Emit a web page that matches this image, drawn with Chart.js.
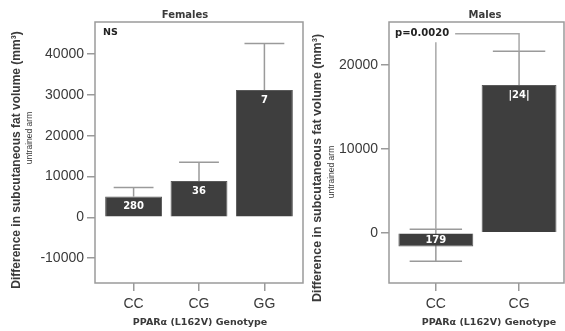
<!DOCTYPE html>
<html>
<head>
<meta charset="utf-8">
<script src="https://cdn.jsdelivr.net/npm/chart.js@4/dist/chart.umd.min.js"></script>
<style>
  html, body { margin: 0; padding: 0; background: #fff; }
  #wrap { position: relative; width: 565px; height: 331px; overflow: hidden; }
  canvas { position: absolute; top: 0; }
</style>
</head>
<body>
<div id="wrap">
  <canvas id="fem" width="305" height="331" style="left:0px"></canvas>
  <canvas id="mal" width="260" height="331" style="left:305px"></canvas>
</div>
<script>
// ---- Data ----
const femaleCats = ['CC', 'CG', 'GG'];
const femaleMeans = [5100, 8900, 31200];
const femaleErrHigh = [7300, 13500, 42600];
const femaleErrLow = [5100, 8900, 31200];
const femaleN = ['280', '36', '7'];
const femaleYTicks = [-10000, 0, 10000, 20000, 30000, 40000];

const maleCats = ['CC', 'CG'];
const maleMeans = [-1650, 17600];
const maleErrHigh = [400, 21600];
const maleErrLow = [-3400, 17600];
const maleN = ['179', '|24|'];
const maleYTicks = [0, 10000, 20000];

const femaleYRange = [-16100, 47900];
const maleYRange = [-6000, 25100];
const malePBracketLevel = 23700;
const malePText = 'p=0.0020';
const femaleStatText = 'NS';

const yTitleMain = 'Difference in subcutaneous fat volume (mm\u00B3)';
const yTitleSub = 'untrained arm';
const xTitle = 'PPAR\u03B1 (L162V) Genotype';

// ---- Styles ----
const BAR = '#3e3e3e';
const LINE = '#9a9a9a';
const TXT = '#3a3a3a';
const TICKFONT = { family: 'Liberation Sans, Arial, sans-serif', size: 14 };
const BOLDV = 'DejaVu Sans, Verdana, sans-serif';

function makeChart(canvasId, cfg) {
  const { cats, means, errHigh, errLow, labels, yTicks, yRange, xRange, yWidth, padRight,
          barPct, title, titleX, yTitleX, yTitleY, ySubX, ySubY, yTitleSize, xTitleX, extra } = cfg;

  const panelPlugin = {
    id: 'panel_' + canvasId,
    beforeDatasetsDraw(chart) {
      const ctx = chart.ctx, a = chart.chartArea;
      const xs = chart.scales.x, ys = chart.scales.y;
      const meta = chart.getDatasetMeta(0);
      ctx.save();
      ctx.strokeStyle = LINE;
      ctx.lineWidth = 1.5;
      ctx.strokeRect(a.left, a.top, a.right - a.left, a.bottom - a.top);
      means.forEach((m, i) => {
        const x = xs.getPixelForValue(i);
        const half = meta.data[i].width * 0.35;
        const yh = ys.getPixelForValue(errHigh[i]);
        const yl = ys.getPixelForValue(errLow[i]);
        ctx.beginPath();
        ctx.moveTo(x, yh); ctx.lineTo(x, yl);
        ctx.moveTo(x - half, yh); ctx.lineTo(x + half, yh);
        if (errLow[i] !== m) { ctx.moveTo(x - half, yl); ctx.lineTo(x + half, yl); }
        ctx.stroke();
      });
      ctx.restore();
    },
    afterDatasetsDraw(chart) {
      const ctx = chart.ctx;
      const meta = chart.getDatasetMeta(0);
      ctx.save();
      ctx.fillStyle = '#ffffff';
      ctx.font = 'bold 10px ' + BOLDV;
      ctx.textAlign = 'center';
      ctx.textBaseline = 'middle';
      meta.data.forEach((el, i) => {
        const y = means[i] >= 0 ? el.y + 10 : (el.y + el.base) / 2;
        ctx.fillText(labels[i], el.x, y);
      });
      ctx.restore();
      if (extra) extra(chart);
    },
    afterDraw(chart) {
      const ctx = chart.ctx;
      ctx.save();
      ctx.fillStyle = TXT;
      ctx.textAlign = 'center';
      ctx.textBaseline = 'middle';
      ctx.font = 'bold 10px ' + BOLDV;
      ctx.fillText(title, titleX, 15);
      ctx.font = 'bold 9.5px ' + BOLDV;
      ctx.fillText(xTitle, xTitleX, 323);
      ctx.save();
      ctx.translate(yTitleX, yTitleY);
      ctx.rotate(-Math.PI / 2);
      ctx.font = 'bold ' + yTitleSize + 'px Liberation Sans, Arial, sans-serif';
      ctx.fillText(yTitleMain, 0, 0);
      ctx.restore();
      ctx.save();
      ctx.translate(ySubX, ySubY);
      ctx.rotate(-Math.PI / 2);
      ctx.font = '8.5px Liberation Sans, Arial, sans-serif';
      ctx.fillText(yTitleSub, 0, 0);
      ctx.restore();
      ctx.restore();
    }
  };

  return new Chart(document.getElementById(canvasId), {
    type: 'bar',
    data: {
      datasets: [{
        data: means.map((v, i) => ({ x: i, y: v })),
        backgroundColor: BAR,
        borderColor: '#5a5a5a',
        borderWidth: 1,
        categoryPercentage: 1,
        barPercentage: barPct
      }]
    },
    options: {
      responsive: false,
      animation: false,
      devicePixelRatio: 1,
      layout: { padding: { top: 22, right: padRight, bottom: 0, left: 0 } },
      plugins: { legend: { display: false }, tooltip: { enabled: false }, title: { display: false } },
      scales: {
        x: {
          type: 'linear',
          offset: false,
          min: xRange[0], max: xRange[1],
          afterBuildTicks: s => { s.ticks = cats.map((c, i) => ({ value: i })); },
          afterFit: s => { s.height = 48; },
          ticks: {
            callback: v => cats[v],
            font: TICKFONT, color: TXT, padding: 5, maxRotation: 0, autoSkip: false
          },
          grid: { offset: false, drawOnChartArea: false, drawTicks: true, tickLength: 8, color: LINE, lineWidth: 1.5 },
          border: { display: false }
        },
        y: {
          min: yRange[0], max: yRange[1],
          afterBuildTicks: s => { s.ticks = yTicks.map(v => ({ value: v })); },
          afterFit: s => { s.width = yWidth; },
          ticks: { callback: v => String(v), font: TICKFONT, color: TXT, padding: 3, autoSkip: false },
          grid: { drawOnChartArea: false, drawTicks: true, tickLength: 8, color: LINE, lineWidth: 1.5 },
          border: { display: false }
        }
      }
    },
    plugins: [panelPlugin]
  });
}

makeChart('fem', {
  cats: femaleCats, means: femaleMeans, errHigh: femaleErrHigh, errLow: femaleErrLow, labels: femaleN,
  yTicks: femaleYTicks,
  yRange: femaleYRange, xRange: [-0.59, femaleCats.length - 1 + 0.59], yWidth: 95, padRight: 2,
  barPct: 0.87, title: 'Females', titleX: 185,
  yTitleX: 17, yTitleY: 160, ySubX: 30, ySubY: 138, yTitleSize: 12, xTitleX: 200,
  extra: chart => {
    const ctx = chart.ctx, a = chart.chartArea;
    ctx.save();
    ctx.fillStyle = '#222';
    ctx.font = 'bold 9.5px ' + BOLDV;
    ctx.textAlign = 'left';
    ctx.textBaseline = 'middle';
    ctx.fillText(femaleStatText, a.left + 8, a.top + 11);
    ctx.restore();
  }
});

makeChart('mal', {
  cats: maleCats, means: maleMeans, errHigh: maleErrHigh, errLow: maleErrLow, labels: maleN,
  yTicks: maleYTicks,
  yRange: maleYRange, xRange: [-0.563, maleCats.length - 1 + 0.54], yWidth: 84, padRight: 1,
  barPct: 0.9, title: 'Males', titleX: 180,
  yTitleX: 13, yTitleY: 168, ySubX: 27, ySubY: 172, yTitleSize: 12.5, xTitleX: 184,
  extra: chart => {
    const ctx = chart.ctx, a = chart.chartArea;
    const xs = chart.scales.x, ys = chart.scales.y;
    const xL = xs.getPixelForValue(0), xR = xs.getPixelForValue(1);
    const yB = ys.getPixelForValue(malePBracketLevel);
    ctx.save();
    ctx.strokeStyle = '#a8a8a8';
    ctx.lineWidth = 1.5;
    ctx.beginPath();
    ctx.moveTo(xL, ys.getPixelForValue(maleErrHigh[0]));
    ctx.lineTo(xL, yB);
    ctx.lineTo(xR, yB);
    ctx.lineTo(xR, ys.getPixelForValue(maleErrHigh[1]));
    ctx.stroke();
    ctx.font = 'bold 10px ' + BOLDV;
    const tx = a.left + 6;
    const tw = ctx.measureText(malePText).width;
    ctx.fillStyle = '#ffffff';
    ctx.fillRect(tx - 2, yB - 8, tw + 8, 16.5);
    ctx.fillStyle = '#222';
    ctx.textAlign = 'left';
    ctx.textBaseline = 'middle';
    ctx.fillText(malePText, tx, yB);
    ctx.restore();
  }
});
</script>
</body>
</html>
